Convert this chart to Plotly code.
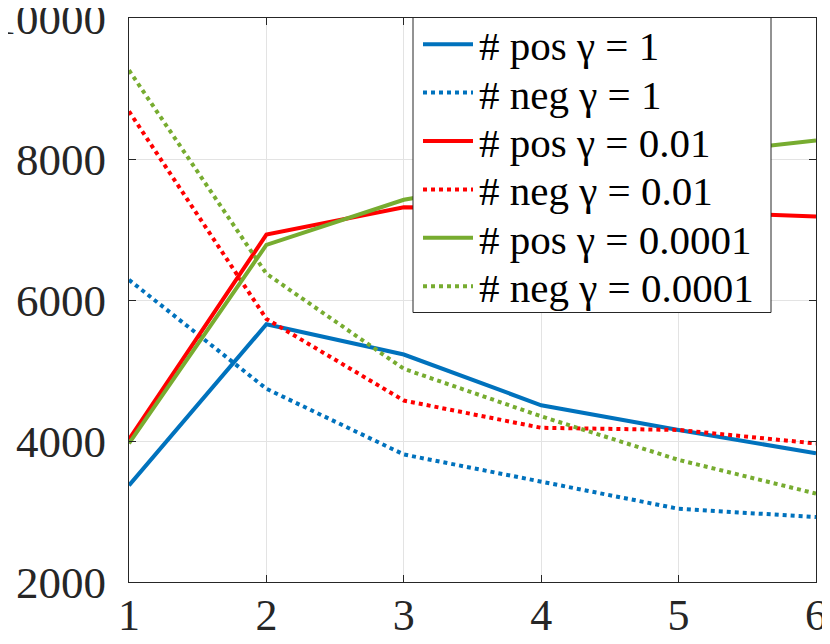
import plotly.graph_objects as go

x = [1, 2, 3, 4, 5, 6]
pos_g1 = [3370, 5656, 5227, 4507, 4157, 3825]
neg_g1 = [6286, 4741, 3809, 3417, 3038, 2921]
pos_g001 = [4023, 6927, 7316, 7300, 7257, 7184]
neg_g001 = [8676, 5732, 4574, 4187, 4157, 3965]
pos_g00001 = [3965, 6781, 7421, 7750, 8050, 8262]
neg_g00001 = [9259, 6373, 5024, 4350, 3732, 3254]
y_ticks = [2000, 4000, 6000, 8000, 10000]
y_tick_labels = ["2000", "4000", "6000", "8000", "10000"]
x_tick_labels = ["1", "2", "3", "4", "5", "6"]

names = ["# pos γ = 1", "# neg γ = 1", "# pos γ = 0.01", "# neg γ = 0.01",
         "# pos γ = 0.0001", "# neg γ = 0.0001"]
series = [pos_g1, neg_g1, pos_g001, neg_g001, pos_g00001, neg_g00001]
colors = ["#0072BD", "#0072BD", "#FF0000", "#FF0000", "#77AC30", "#77AC30"]
dashes = ["solid", "dot", "solid", "dot", "solid", "dot"]

# page body has an 8px margin, so the figure is drawn 8px in from the window corner
OFF = 8
W, H = 830 - OFF, 644 - OFF
ML, MR, MT, MB = 129 - OFF, 14, 18 - OFF, 62
PW, PH = W - ML - MR, H - MT - MB

fig = go.Figure()
for n, s, c, d in zip(names, series, colors, dashes):
    fig.add_trace(go.Scatter(x=x, y=s, mode="lines", name=n, showlegend=False,
                             line=dict(color=c, width=4, dash=d)))

font = "Liberation Serif"
axis_common = dict(
    showgrid=True, gridcolor="#e3e3e3", gridwidth=1,
    showline=True, linecolor="#262626", linewidth=1, mirror="allticks",
    ticks="inside", ticklen=7, tickcolor="#262626",
    zeroline=False, ticklabeloverflow="allow", automargin=False,
)
fig.update_xaxes(range=[1, 6], tickvals=x, ticktext=x_tick_labels,
                 tickfont=dict(family=font, size=44, color="#262626"),
                 ticklabelstandoff=-6, **axis_common)
fig.update_yaxes(range=[2000, 10000], tickvals=y_ticks, ticktext=y_tick_labels,
                 tickfont=dict(family=font, size=45, color="#262626"),
                 ticklabelstandoff=13, **axis_common)

# legend position helpers: window pixel -> paper fraction
def px(v):
    return (v - OFF - ML) / PW

def py(v):
    return 1 - (v - OFF - MT) / PH

shapes = [dict(type="rect", xref="paper", yref="paper",
               x0=px(413), x1=px(771), y0=py(312.5), y1=py(17.5),
               fillcolor="white", line=dict(color="#262626", width=1), layer="above")]
annotations = []
row0, step = 44.2, 48.4
for i, (n, c, d) in enumerate(zip(names, colors, dashes)):
    yy = row0 + i * step
    shapes.append(dict(type="line", xref="paper", yref="paper",
                       x0=px(423), x1=px(473), y0=py(yy), y1=py(yy),
                       line=dict(color=c, width=4, dash=d), layer="above"))
    annotations.append(dict(xref="paper", yref="paper", x=px(477), y=py(yy + 2),
                            xanchor="left", yanchor="middle", showarrow=False,
                            text=n, font=dict(family=font, size=41, color="#000000")))

fig.update_layout(
    width=W, height=H,
    margin=dict(l=ML, r=MR, t=MT, b=MB, autoexpand=False),
    paper_bgcolor="white", plot_bgcolor="white",
    font=dict(family=font),
    shapes=shapes, annotations=annotations,
)
fig.write_html("out.html")
